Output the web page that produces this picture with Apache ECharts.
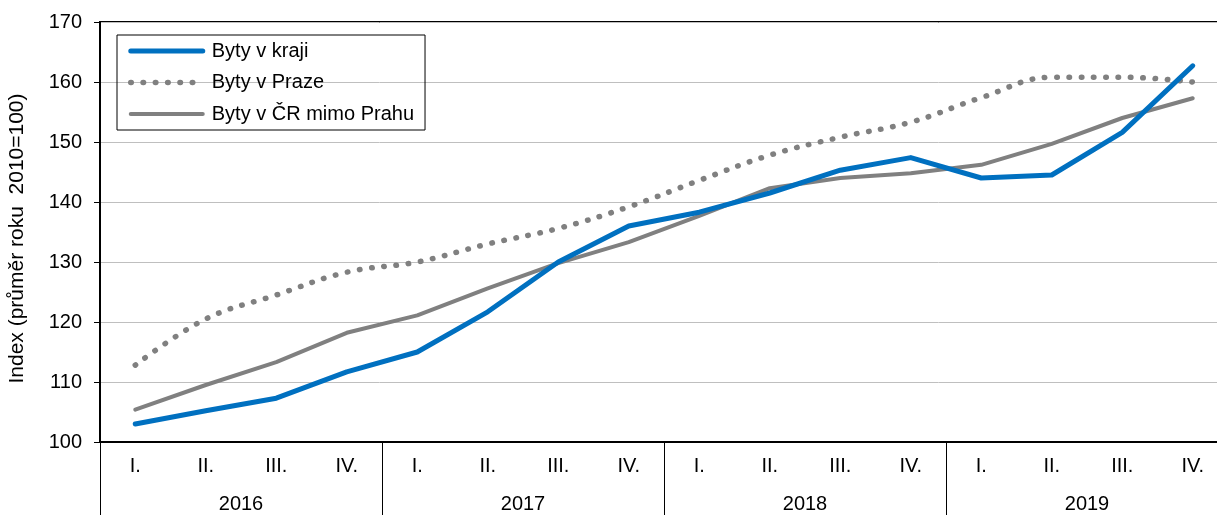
<!DOCTYPE html>
<html>
<head>
<meta charset="utf-8">
<script src="https://cdn.jsdelivr.net/npm/echarts@6/dist/echarts.min.js"></script>
<style>
html,body{margin:0;padding:0;background:#fff;}
#chart{width:1217px;height:515px;}
</style>
</head>
<body>
<div id="chart"></div>
<script>
const quarters = ['I.','II.','III.','IV.','I.','II.','III.','IV.','I.','II.','III.','IV.','I.','II.','III.','IV.'];
const years = ['2016','2017','2018','2019'];
const seriesNames = ['Byty v kraji','Byty v Praze','Byty v ČR mimo Prahu'];
const bytyKraj = [103.0,105.2,107.3,111.7,115.0,121.7,130.0,136.0,138.3,141.5,145.3,147.4,144.0,144.5,151.6,162.7];
const bytyPraha = [112.8,120.5,124.5,128.3,130.0,133.0,135.6,139.2,143.6,147.8,150.8,153.3,157.4,160.8,160.8,160.0];
const bytyCR = [105.4,109.5,113.3,118.2,121.1,125.6,129.8,133.3,137.7,142.3,144.0,144.8,146.2,149.7,154.0,157.3];
const yTicks = {min:100, max:170, interval:10};
const yTitle = 'Index (průměr roku  2010=100)';

const FONT = '"Liberation Sans", Arial, sans-serif';
const chart = echarts.init(document.getElementById('chart'), null, {renderer:'canvas'});
chart.setOption({
  animation:false,
  backgroundColor:'#fff',
  textStyle:{fontFamily:FONT},
  grid:{left:100, top:22, width:1128, height:420, outerBoundsMode:'none', containLabel:false,
        show:true, borderColor:'#000', borderWidth:2, backgroundColor:'transparent'},
  legend:{
    orient:'vertical', left:117, top:35,
    borderColor:'#000', borderWidth:1, padding:[6,11,6,11],
    itemWidth:72, itemHeight:20, itemGap:11.5,
    itemStyle:{opacity:0},
    lineStyle:{width:'inherit'},
    textStyle:{fontFamily:FONT, fontSize:20, color:'#000', padding:[0,0,0,4]},
    data:seriesNames
  },
  xAxis:[
    {type:'category', data:quarters, position:'bottom', boundaryGap:true,
     axisLine:{show:true, lineStyle:{color:'#000', width:2}},
     axisTick:{show:false}, splitLine:{show:false},
     axisLabel:{fontFamily:FONT, fontSize:20, color:'#000', margin:14, interval:0}},
    {type:'category', data:years, position:'bottom', boundaryGap:true,
     axisLine:{show:false},
     axisTick:{show:true, length:80, inside:false, lineStyle:{color:'#000', width:1}},
     splitLine:{show:false},
     axisLabel:{fontFamily:FONT, fontSize:20, color:'#000', margin:52, interval:0}}
  ],
  yAxis:{
    type:'value', min:yTicks.min, max:yTicks.max, interval:yTicks.interval,
    name:yTitle, nameLocation:'middle', nameGap:72, nameRotate:90,
    nameTextStyle:{fontFamily:FONT, fontSize:21, color:'#000', padding:[0,13,0,0]},
    axisLine:{show:true, lineStyle:{color:'#000', width:2}},
    axisTick:{show:true, length:6, lineStyle:{color:'#000', width:1}},
    splitLine:{show:true, lineStyle:{color:'#bfbfbf', width:1}},
    axisLabel:{fontFamily:FONT, fontSize:20, color:'#000', margin:18}
  },
  series:[
    {name:seriesNames[0], type:'line', data:bytyKraj, symbol:'none', z:5,
     lineStyle:{color:'#0070C0', width:5, cap:'round', join:'round'}, itemStyle:{color:'#0070C0'}},
    {name:seriesNames[1], type:'line', data:bytyPraha, symbol:'none', smooth:0.4, z:3,
     lineStyle:{color:'#808080', width:5.5, type:[0.5,11.8], cap:'round'}, itemStyle:{color:'#808080'}},
    {name:seriesNames[2], type:'line', data:bytyCR, symbol:'none', z:4,
     lineStyle:{color:'#808080', width:4, cap:'round', join:'round'}, itemStyle:{color:'#808080'}}
  ]
});
</script>
</body>
</html>
